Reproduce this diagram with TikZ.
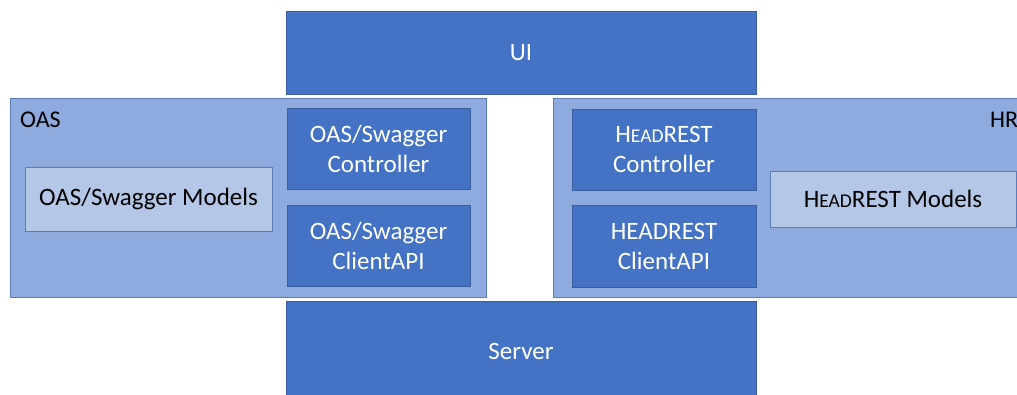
\documentclass[tikz,border=0pt]{standalone}
\usepackage{fontspec}
\setmainfont{Carlito}
\definecolor{dblue}{HTML}{4472C4}
\definecolor{dborder}{HTML}{3A5F9F}
\definecolor{mblue}{HTML}{8FAADC}
\definecolor{mborder}{HTML}{5A7DB8}
\definecolor{lblue}{HTML}{B4C7E7}
\newcommand\hrsc{H{\fontsize{19.5}{22}\selectfont EAD}REST}
\begin{document}
\begin{tikzpicture}[x=1pt,y=-1pt,
  dark/.style={draw=dborder,fill=dblue,line width=0.8pt,text=white,align=center,inner sep=0pt,
    font=\fontsize{25}{30}\selectfont},
  cont/.style={draw=mborder,fill=mblue,line width=0.8pt,inner sep=0pt},
  light/.style={draw=mborder,fill=lblue,line width=0.8pt,text=black,inner sep=0pt,
    font=\fontsize{25}{30}\selectfont},
  lbl/.style={anchor=west,inner sep=0pt,font=\fontsize{24}{26}\selectfont}]
\useasboundingbox (0,0) rectangle (1017,394);
\fill[white] (0,0) rectangle (1017,394);
\begin{scope}
\clip (0,0) rectangle (1017,394);
\node[dark,minimum width=470,minimum height=83] (ui) at (521,52.5) {UI};
\node[dark,minimum width=470,minimum height=100] (server) at (521,351) {Server};
\node[cont,minimum width=476,minimum height=199] (oas) at (248,197.5) {};
\node[cont,minimum width=490,minimum height=199] (hr) at (798,197.5) {};
\node[lbl] (oaslbl) at (20,120) {OAS};
\node[lbl] (hrlbl) at (990,120) {HR};
\node[dark,minimum width=183,minimum height=81] (oasctl) at (378.5,148.5) {OAS/Swagger\\Controller};
\node[dark,minimum width=183,minimum height=81] (oascli) at (378.5,245.5) {OAS/Swagger\\ClientAPI};
\node[light,minimum width=247,minimum height=64] (oasmod) at (148.5,199) {OAS/Swagger Models};
\node[dark,minimum width=184,minimum height=81] (hrctl) at (664,149.5) {\hrsc\\Controller};
\node[dark,minimum width=184,minimum height=82] (hrcli) at (664,246) {HEADREST\\ClientAPI};
\node[light,minimum width=246,minimum height=56] (hrmod) at (893,199) {\hrsc{} Models};
\end{scope}
\end{tikzpicture}
\end{document}
